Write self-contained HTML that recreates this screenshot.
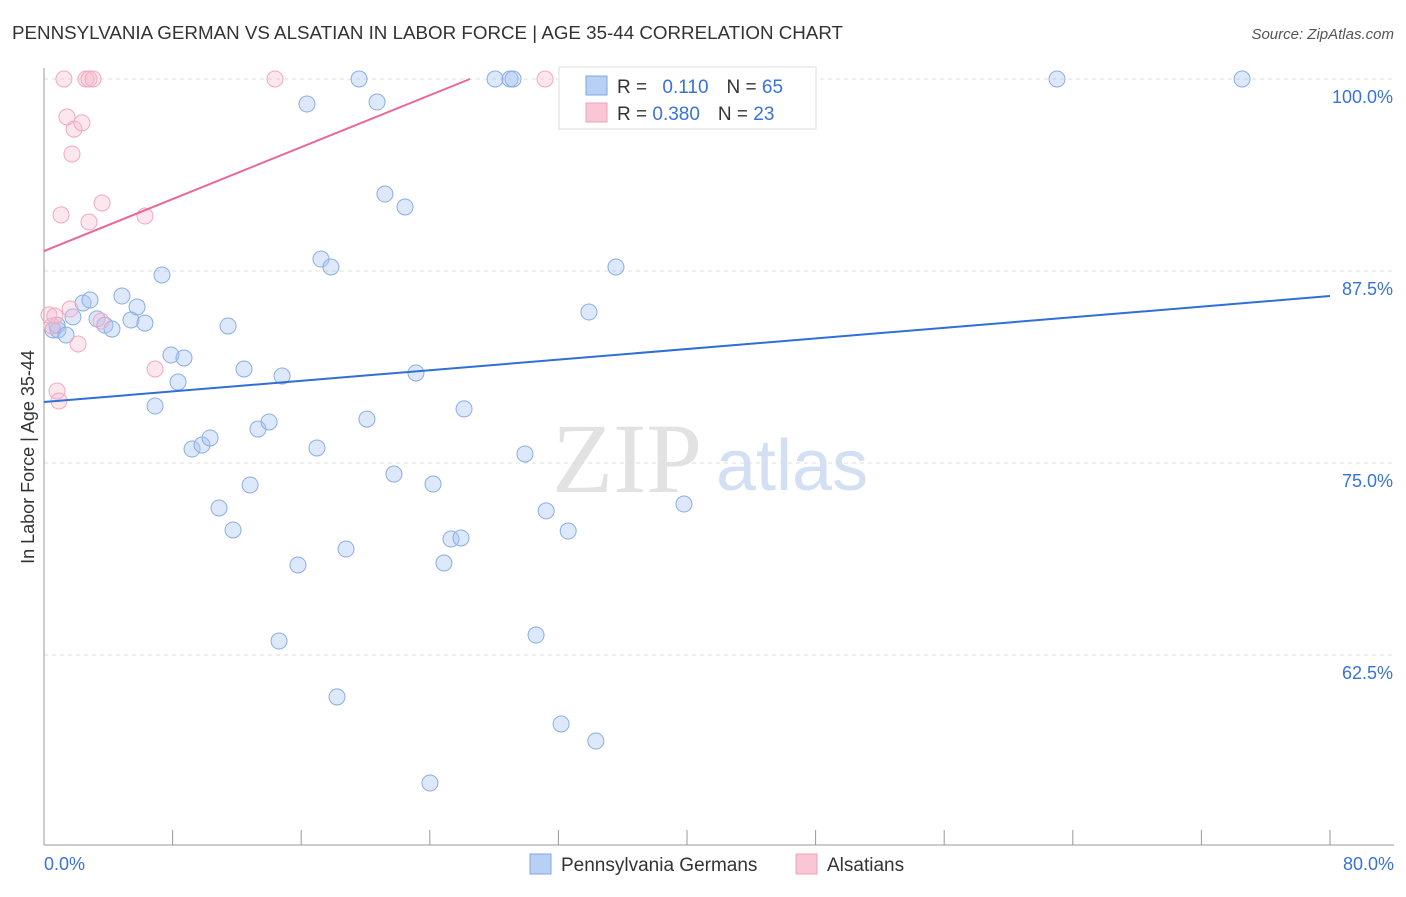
<!DOCTYPE html>
<html><head><meta charset="utf-8"><style>
body{margin:0;background:#fff;font-family:"Liberation Sans",sans-serif}
</style></head><body>
<svg id="c" width="1406" height="892" xmlns="http://www.w3.org/2000/svg">
<text x="12" y="39" font-size="18" fill="#333" textLength="831" lengthAdjust="spacingAndGlyphs">PENNSYLVANIA GERMAN VS ALSATIAN IN LABOR FORCE | AGE 35-44 CORRELATION CHART</text>
<text x="1394" y="39" font-size="15" fill="#555" font-style="italic" text-anchor="end">Source: ZipAtlas.com</text>
<text x="0" y="0" font-size="18" fill="#333" text-anchor="middle" transform="translate(34,457) rotate(-90)">In Labor Force | Age 35-44</text>
<text x="552" y="492" font-size="100" fill="#e2e2e2" font-family="Liberation Serif,serif">ZIP</text>
<text x="716" y="490" font-size="72" fill="#d3e0f3">atlas</text>
<g id="grid"></g><g id="pts"></g><g id="lines"></g>
<g>
<rect x="559" y="67" width="257" height="62" fill="#fff" stroke="#ddd"/>
<rect x="586" y="76" width="21" height="19" fill="#b9d0f5" stroke="#7fa6e0"/>
<rect x="586" y="103" width="21" height="19" fill="#f8c6d5" stroke="#f0a0b8"/>
<text x="617" y="93" font-size="19" fill="#333">R = <tspan fill="#3a72d8" dx="10">0.110</tspan><tspan dx="18" fill="#333">N = </tspan><tspan fill="#3a72d8">65</tspan></text>
<text x="617" y="120" font-size="19" fill="#333">R = <tspan fill="#3a72d8">0.380</tspan><tspan dx="18" fill="#333">N = </tspan><tspan fill="#3a72d8">23</tspan></text>
</g>
<g>
<rect x="530" y="854" width="21" height="20" fill="#b9d0f5" stroke="#7fa6e0"/>
<text x="561" y="871" font-size="19" fill="#333">Pennsylvania Germans</text>
<rect x="796" y="854" width="21" height="20" fill="#f8c6d5" stroke="#f0a0b8"/>
<text x="827" y="871" font-size="19" fill="#333">Alsatians</text>
</g>
</svg>
<script>
const blueX=[.56,.87,.81,1.37,1.80,2.43,2.86,3.30,3.79,4.23,4.85,5.41,5.79,6.28,6.91,7.34,7.90,8.34,8.71,9.21,9.83,10.33,10.89,11.45,11.76,12.44,12.82,13.31,14.00,14.81,14.62,15.80,16.36,16.98,17.23,17.85,18.23,18.79,19.60,20.09,20.72,21.21,21.77,22.46,23.14,24.01,24.20,24.88,25.32,25.94,26.13,28.06,28.99,29.18,29.92,30.61,31.24,32.17,32.61,33.90,34.33,35.58,39.81,46.97,63.02,74.53];
const blueY=[83.66,83.66,83.98,83.33,84.51,85.42,85.61,84.38,83.98,83.72,85.87,84.31,85.16,84.11,78.71,87.24,82.03,80.27,81.84,75.91,76.17,76.63,72.07,83.92,70.64,81.12,73.57,77.21,77.67,80.66,63.41,68.36,98.37,75.98,88.28,87.76,59.77,69.40,100,77.86,98.50,92.51,74.28,91.67,80.86,54.17,73.63,68.49,70.05,70.12,78.52,100,100,100,75.59,63.80,71.88,58.01,70.57,84.83,56.90,87.76,72.33,100,100,100];
const pinkX=[.31,.50,.68,.81,.93,1.24,1.43,1.74,1.87,2.36,2.61,2.80,3.05,1.06,1.62,2.12,2.80,3.55,3.61,6.28,6.91,14.37,31.17];
const pinkY=[84.64,83.92,84.57,79.69,79.04,100,97.53,95.12,96.74,97.14,100,100,100,91.15,85.03,82.75,90.69,84.24,91.93,91.08,81.12,100,100];
const blueTrend=[78.97,85.87];
const pinkTrend=[88.8,100];
const yTicks=[100,87.5,75,62.5];
const xTickLabels=["0.0%","80.0%"];
const NS="http://www.w3.org/2000/svg";
const X=v=>44+v/80*1286, Y=v=>79+(100-v)/12.5*192;
function mk(t,a,p){const e=document.createElementNS(NS,t);for(const k in a)e.setAttribute(k,a[k]);p.appendChild(e);return e;}
const g=document.getElementById('grid');
yTicks.forEach(t=>{const l=mk('line',{x1:44,x2:1394,y1:Y(t),y2:Y(t),stroke:'#ddd','stroke-dasharray':'4,4'},g);


const tx=mk('text',{x:1393,y:Y(t)+24,'font-size':18,fill:'#3a72d8','text-anchor':'end'},g);tx.textContent=t.toFixed(1)+'%';

});
const ax=mk('line',{x1:44,x2:44,y1:68,y2:845,stroke:'#999'},g);


const xa=mk('line',{x1:44,x2:1394,y1:845,y2:845,stroke:'#999'},g);


for(let i=0;i<=10;i++){const t=mk('line',{x1:X(i*8),x2:X(i*8),y1:830,y2:845,stroke:'#999'},g);

}
[[0,'start'],[80,'end']].forEach((d,i)=>{const t=mk('text',{x:i?1394:44,y:870,'font-size':18,fill:'#3a72d8','text-anchor':d[1]},g);t.textContent=xTickLabels[i];

});
const P=document.getElementById('pts');
blueX.forEach((x,i)=>{const c=mk('circle',{cx:X(x),cy:Y(blueY[i]),r:8,fill:'rgba(170,198,242,0.4)',stroke:'#8aaee3','stroke-width':1},P);

});
pinkX.forEach((x,i)=>{const c=mk('circle',{cx:X(x),cy:Y(pinkY[i]),r:8,fill:'rgba(245,185,205,0.35)',stroke:'#f2a8bf','stroke-width':1},P);

});
const L=document.getElementById('lines');
const bl=mk('line',{x1:X(0),y1:Y(blueTrend[0]),x2:X(80),y2:Y(blueTrend[1]),stroke:'#2f6fd6','stroke-width':2},L);


const pl=mk('line',{x1:X(0),y1:Y(pinkTrend[0]),x2:X(26.5),y2:Y(pinkTrend[1]),stroke:'#e8689a','stroke-width':2},L);


</script>
</body></html>
